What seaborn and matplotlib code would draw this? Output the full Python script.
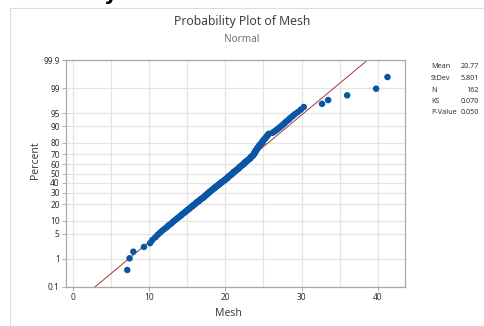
import numpy as np
import pandas as pd
import matplotlib
matplotlib.use("Agg")
import matplotlib.pyplot as plt
import seaborn as sns
from statistics import NormalDist
from matplotlib.patches import Rectangle

# ---------------- data ----------------
mesh = [
    7.1, 7.4, 7.9, 9.3, 10.1, 10.4, 10.8, 11.1, 11.4, 11.7,
    12.0, 12.3, 12.5, 12.8, 13.0, 13.2, 13.4, 13.6, 13.8, 14.0,
    14.2, 14.3, 14.5, 14.7, 14.8, 15.0, 15.1, 15.3, 15.4, 15.6,
    15.7, 15.8, 16.0, 16.1, 16.2, 16.3, 16.5, 16.6, 16.7, 16.8,
    17.0, 17.1, 17.2, 17.3, 17.4, 17.5, 17.6, 17.7, 17.8, 17.9,
    18.0, 18.1, 18.2, 18.3, 18.4, 18.5, 18.6, 18.7, 18.8, 18.9,
    19.0, 19.1, 19.2, 19.3, 19.4, 19.5, 19.6, 19.7, 19.8, 19.9,
    20.0, 20.1, 20.2, 20.3, 20.3, 20.4, 20.5, 20.6, 20.7, 20.8,
    20.9, 21.0, 21.0, 21.1, 21.2, 21.3, 21.4, 21.5, 21.6, 21.7,
    21.8, 21.8, 21.9, 22.0, 22.1, 22.2, 22.3, 22.4, 22.5, 22.5,
    22.6, 22.7, 22.8, 22.9, 23.0, 23.1, 23.2, 23.3, 23.3, 23.4,
    23.5, 23.6, 23.7, 23.7, 23.8, 23.8, 23.9, 23.9, 24.0, 24.0,
    24.1, 24.2, 24.2, 24.3, 24.4, 24.4, 24.5, 24.6, 24.7, 24.8,
    24.9, 24.9, 25.0, 25.1, 25.2, 25.3, 25.4, 25.5, 25.6, 25.7,
    26.2, 26.4, 26.6, 26.8, 27.0, 27.2, 27.4, 27.6, 27.8, 28.0,
    28.3, 28.5, 28.8, 29.1, 29.5, 29.9, 30.3, 32.7, 33.5, 36.0,
    39.8, 41.3,
]
percent_ticks = [0.1, 1, 5, 10, 20, 30, 40, 50, 60, 70, 80, 90, 95, 99, 99.9]
percent_labels = ["0.1", "1", "5", "10", "20", "30", "40", "50", "60",
                  "70", "80", "90", "95", "99", "99.9"]
x_ticks = [0, 10, 20, 30, 40]
x_grid = [0, 5, 10, 15, 20, 25, 30, 35, 40]
stat_names = ["Mean", "StDev", "N", "KS", "P-Value"]
stat_values = ["20.77", "5.801", "162", "0.070", "0.050"]
fit_mean = 20.77
fit_sd = 5.801

# ---------------- build ----------------
nd = NormalDist()
vals = sorted(mesh)
n = len(vals)
zpos = [nd.inv_cdf((i + 1 - 0.3) / (n + 0.4)) for i in range(n)]
df = pd.DataFrame({"Mesh": vals, "z": zpos})

sns.set_theme(style="white")
plt.rcParams["font.family"] = ["Noto Sans", "DejaVu Sans"]

W, H = 485, 326
fig = plt.figure(figsize=(W / 100, H / 100), dpi=100)
fig.patch.set_facecolor("white")

L, R, T, B = 66, 405, 60, 287
ax = fig.add_axes([L / W, 1 - B / H, (R - L) / W, (B - T) / H])

xlim = (-0.95, 43.6)
zlim = (nd.inv_cdf(0.001), nd.inv_cdf(0.999))
yt = [nd.inv_cdf(p / 100) for p in percent_ticks]

grid_c = "#E4E4E4"
for xv in x_grid:
    ax.axvline(xv, color=grid_c, lw=0.9, zorder=0)
for yv in yt:
    ax.axhline(yv, color=grid_c, lw=0.9, zorder=0)

xs = np.array(xlim)
line_df = pd.DataFrame({"x": xs, "z": (xs - fit_mean) / fit_sd})
sns.lineplot(data=line_df, x="x", y="z", color="#A8343A", lw=0.7, ax=ax, zorder=2)

sns.scatterplot(data=df, x="Mesh", y="z", color="#0A56A5", s=22,
                edgecolor="none", linewidth=0, ax=ax, zorder=3)

ax.set_xlim(*xlim)
ax.set_ylim(*zlim)
ax.set_xticks(x_ticks)
ax.set_xticklabels([str(v) for v in x_ticks])
ax.set_yticks(yt)
ax.set_yticklabels(percent_labels)
ax.tick_params(axis="both", labelsize=6.0, labelcolor="#303030", length=3,
               width=0.6, color="#A0A0A0", pad=1.5, direction="out")
ax.tick_params(axis="x", bottom=True)
ax.tick_params(axis="y", left=True)
for s in ax.spines.values():
    s.set_color("#A8A8A8")
    s.set_linewidth(0.9)
ax.set_xlabel("")
ax.set_ylabel("")

fig.text(228 / W, 1 - 313 / H, "Mesh", ha="center", va="center",
         fontsize=7.5, color="#404040")
fig.text(36 / W, 1 - 160 / H, "Percent", ha="center", va="center",
         rotation=90, fontsize=7.5, color="#404040")

fig.text(242 / W, 1 - 22 / H, "Probability Plot of Mesh", ha="center",
         va="center", fontsize=8.8, color="#404040")
fig.text(242 / W, 1 - 40 / H, "Normal", ha="center", va="center",
         fontsize=7.2, color="#707070")

rows = [67, 78.5, 90, 101.5, 113]
for nm, vv, yy in zip(stat_names, stat_values, rows):
    fig.text(431 / W, 1 - yy / H, nm, ha="left", va="center",
             fontsize=5.2, color="#303030")
    fig.text(479 / W, 1 - yy / H, vv, ha="right", va="center",
             fontsize=5.2, color="#303030")

fig.patches.append(Rectangle((10.5 / W, -0.05), 1.0, 1.05 - 7.5 / H,
                             transform=fig.transFigure, fill=False,
                             edgecolor="#DCDCDC", lw=0.8))
fig.text(104 / W, 1.0, "y", ha="left", va="baseline", fontsize=15,
         fontweight="bold", color="black", family=["DejaVu Sans"])

fig.savefig("out.png", dpi=100)
